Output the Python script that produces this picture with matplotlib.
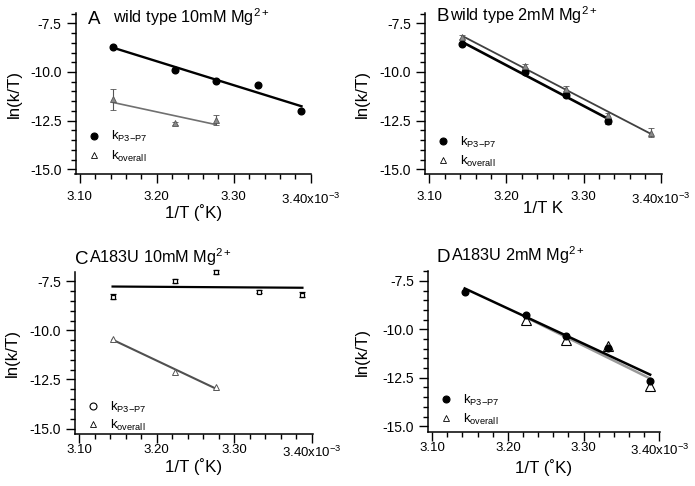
import matplotlib
matplotlib.use('Agg')
import matplotlib.pyplot as plt
from matplotlib.lines import Line2D
from matplotlib.ticker import MultipleLocator, FormatStrFormatter
import numpy as np

plt.rcParams['font.family'] = ['Liberation Sans', 'DejaVu Sans']
plt.rcParams['mathtext.fontset'] = 'custom'
plt.rcParams['mathtext.rm'] = 'Liberation Sans'
plt.rcParams['mathtext.it'] = 'Liberation Sans:italic'
plt.rcParams['mathtext.bf'] = 'Liberation Sans:bold'
plt.rcParams['axes.unicode_minus'] = False

# 1/T in units of 10^-3 K^-1  (45, 37, 32, 27, 22 C)
inv_T = [3.143, 3.224, 3.277, 3.332, 3.388]

# panel A: wild type 10mM
a_p3p7 = [-8.72, -9.90, -10.44, -10.65, -12.01]
a_overall = [-11.41, -12.64, -12.47]
a_overall_err = [0.54, 0.08, 0.25]

# panel B: wild type 2mM
b_p3p7 = [-8.58, -9.99, -11.19, -12.53]
b_p3p7_err = [0.05, 0.06, 0.10, 0.12]
b_overall = [-8.22, -9.70, -10.85, -12.22, -13.13]
b_overall_err = [0.10, 0.12, 0.13, 0.12, 0.23]

# panel C: A183U 10mM
c_p3p7 = [-8.27, -7.47, -7.02, -8.03, -8.18]
c_p3p7_err = [0.13, 0.10, 0.10, 0.08, 0.13]
c_overall = [-10.42, -12.12, -12.90]

# panel D: A183U 2mM
d_p3p7 = [-8.05, -9.25, -10.33, -10.94, -12.67]
d_overall = [-9.50, -10.54, -10.85, -12.90]

xticks = [3.10, 3.20, 3.30, 3.40]
xticklabels = ['3.10', '3.20', '3.30', r'3.40x10$^{\mathregular{-3}}$']
yticks = [-15.0, -12.5, -10.0, -7.5]

W, H = 695, 486
fig = plt.figure(figsize=(W / 100, H / 100), dpi=100)


def make_ax(l, t, r, b, ylim, xpad):
    ax = fig.add_axes([l / W, 1 - b / H, (r - l) / W, (b - t) / H])
    ax.set_xlim(3.0945, 3.401)
    ax.set_ylim(*ylim)
    ax.spines['top'].set_visible(False)
    ax.spines['right'].set_visible(False)
    for s in ['left', 'bottom']:
        ax.spines[s].set_linewidth(1.1)
    ax.set_xticks(xticks)
    ax.set_xticklabels(xticklabels)
    ax.set_yticks(yticks)
    ax.yaxis.set_major_formatter(FormatStrFormatter('%.1f'))
    ax.xaxis.set_minor_locator(MultipleLocator(0.02))
    ax.yaxis.set_minor_locator(MultipleLocator(0.5))
    ax.tick_params(which='major', direction='out', length=6.5, width=1.0, labelsize=9.5)
    ax.tick_params(which='minor', direction='out', length=3.6, width=1.0)
    ax.tick_params(axis='x', which='major', pad=xpad)
    ax.tick_params(axis='y', which='major', pad=3.5, labelsize=10)
    ax.set_ylabel('ln(k/T)', fontsize=12.2)
    return ax


def fit_line(ax, x, y, color, lw):
    p = np.polyfit(x, y, 1)
    xs = np.array([x[0], x[-1]])
    ax.plot(xs, np.polyval(p, xs), color=color, lw=lw, zorder=2)


def title(lx, tx, base, letter, text):
    fig.text(lx / W, 1 - base / H, letter, fontsize=13.5, va='baseline')
    fig.text(tx / W, 1 - base / H, text, fontsize=11.7, va='baseline')


def legend(ax, p_marker, p_fill, anchor, spacing):
    h = [Line2D([], [], ls='none', marker=p_marker, ms=5, mfc=p_fill, mec='black', mew=0.8),
         Line2D([], [], ls='none', marker='^', ms=4.5, mfc='none', mec='black', mew=0.6)]
    ax.legend(h, [r'k$_{\mathregular{P3{-}P7}}$', r'k$_{\mathregular{overall}}$'],
              loc='lower left', bbox_to_anchor=anchor, frameon=False, fontsize=9.5,
              handlelength=0.8, handletextpad=0.9, borderpad=0, borderaxespad=0,
              labelspacing=spacing)


def labels(ax, xlab, xl_y, yl_x):
    ax.set_xlabel(xlab, fontsize=12.2)
    ax.xaxis.set_label_coords(0.5, xl_y)
    ax.yaxis.set_label_coords(yl_x, 0.5)


# ---- A
axA = make_ax(75.5, 13, 311.5, 174, (-15.24, -6.97), 6)
fit_line(axA, inv_T, a_p3p7, 'black', 1.7)
fit_line(axA, inv_T[:3], a_overall, '#707070', 1.2)
axA.plot(inv_T, a_p3p7, 'o', color='black', ms=4.8, zorder=3, clip_on=False)
axA.errorbar(inv_T[:3], a_overall, yerr=a_overall_err, fmt='^', ms=4, mfc='#8a8a8a', mec='#555555',
             mew=0.6, ecolor='#555555', elinewidth=0.8, capsize=2.5, capthick=0.8, zorder=3)
labels(axA, '1/T (˚K)', -0.185, -0.228)
legend(axA, 'o', 'black', (0.055, 0.065), 0.3)
title(88, 113, 23.5, 'A', r'wild type 10mM Mg$^{\mathregular{2+}}$')

# ---- B
axB = make_ax(425, 13, 661.5, 174, (-15.24, -6.97), 6)
fit_line(axB, inv_T[:4], b_p3p7, 'black', 1.9)
fit_line(axB, inv_T, b_overall, '#404040', 1.3)
axB.errorbar(inv_T[:4], b_p3p7, yerr=b_p3p7_err, fmt='o', ms=4.8, color='black',
             elinewidth=0.8, capsize=2, capthick=0.8, zorder=3)
axB.errorbar(inv_T, b_overall, yerr=b_overall_err, fmt='^', ms=4, mfc='#8a8a8a', mec='#555555',
             mew=0.6, ecolor='#555555', elinewidth=0.8, capsize=2.5, capthick=0.8, zorder=3)
labels(axB, '1/T K', -0.165, -0.233)
legend(axB, 'o', 'black', (0.055, 0.03), 0.3)
title(437, 450, 21, 'B', r'wild type 2mM Mg$^{\mathregular{2+}}$')

# ---- C
axC = make_ax(75, 272, 312.5, 434, (-15.28, -7.02), 1)
fit_line(axC, inv_T, c_p3p7, 'black', 1.6)
fit_line(axC, inv_T[:3], c_overall, '#505050', 1.5)
axC.errorbar(inv_T, c_p3p7, yerr=c_p3p7_err, fmt='s', ms=3.5, mfc='white', mec='black', mew=0.9,
             ecolor='black', elinewidth=0.8, capsize=2, capthick=0.9, zorder=3, clip_on=False)
axC.plot(inv_T[:3], c_overall, '^', ms=4, mfc='white', mec='#555555', mew=0.7, zorder=3)
labels(axC, '1/T (˚K)', -0.15, -0.232)
legend(axC, 'o', 'none', (0.055, 0.005), 0.22)
title(75, 89, 263.5, 'C', r'A183U 10mM Mg$^{\mathregular{2+}}$')

# ---- D
axD = make_ax(428, 271, 660, 432, (-15.3, -6.99), 1)
fit_line(axD, inv_T[1:], d_overall, '#9a9a9a', 1.8)
fit_line(axD, inv_T, d_p3p7, 'black', 1.8)
axD.plot(inv_T, d_p3p7, 'o', color='black', ms=4.8, zorder=3)
axD.plot(inv_T[1:], d_overall, '^', ms=7, mfc='none', mec='black', mew=0.8, zorder=4)
labels(axD, '1/T (˚K)', -0.168, -0.25)
legend(axD, 'o', 'black', (0.055, 0.03), 0.3)
title(437, 451, 261.5, 'D', r'A183U 2mM Mg$^{\mathregular{2+}}$')

fig.savefig('out.png', dpi=100)
